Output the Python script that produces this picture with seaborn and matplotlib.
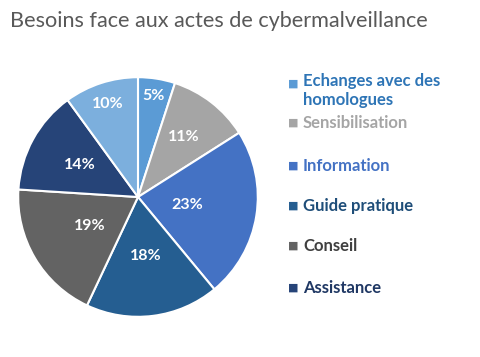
import numpy as np
import seaborn as sns
import matplotlib.pyplot as plt

sns.set_theme(style="white")
plt.rcParams['font.family'] = ['Lato', 'DejaVu Sans']

title = "Besoins face aux actes de cybermalveillance"
categories = ["Echanges avec des\nhomologues", "Sensibilisation", "Information",
              "Guide pratique", "Conseil", "Assistance", "Autre"]
values = [5, 11, 23, 18, 19, 14, 10]
colors = ["#5B9BD5", "#A5A5A5", "#4472C4", "#255E91", "#636363", "#264478", "#7CAFDD"]
legend_colors = ["#2E75B6", "#A5A5A5", "#4472C4", "#1F4E79", "#404040", "#203864"]
# how far from the centre each percentage sits (Excel "best fit")
label_dist = [0.85, 0.63, 0.42, 0.5, 0.47, 0.55, 0.82]

fig = plt.figure(figsize=(4.81, 3.57), dpi=100)
ax = fig.add_axes([17 / 481, 1 - 318 / 357, 242 / 481, 242 / 357])

wedges, texts, autotexts = ax.pie(values, colors=colors, startangle=90, counterclock=False,
                                  autopct='%1.0f%%', pctdistance=0.6,
                                  wedgeprops=dict(edgecolor='white', linewidth=1.5),
                                  textprops=dict(color='white', fontsize=11.5, fontweight='bold'))
for w, t, d in zip(wedges, autotexts, label_dist):
    ang = np.deg2rad((w.theta1 + w.theta2) / 2)
    t.set_position((d * np.cos(ang), d * np.sin(ang)))
ax.set_xlim(-1.01, 1.01)
ax.set_ylim(-1.01, 1.01)
ax.set_aspect('equal')

fig.text(10 / 481, 1 - 21 / 357, title, fontsize=15.6, color='#595959', va='center')

# legend (last category falls outside the chart area in the original)
ys = [84, 123, 166, 206, 246, 288]
for lab, c, col, y in zip(categories[:6], legend_colors, colors, ys):
    fig.text(288 / 481, 1 - y / 357, "■", color=col, fontsize=8,
             va='center', family='DejaVu Sans')
    two_lines = "\n" in lab
    fig.text(303 / 481, 1 - (y - 11) / 357 if two_lines else 1 - y / 357, lab,
             color=c, fontsize=12, fontweight='bold',
             va='top' if two_lines else 'center', linespacing=1.2)

fig.savefig("out.png", dpi=100, facecolor='white')
